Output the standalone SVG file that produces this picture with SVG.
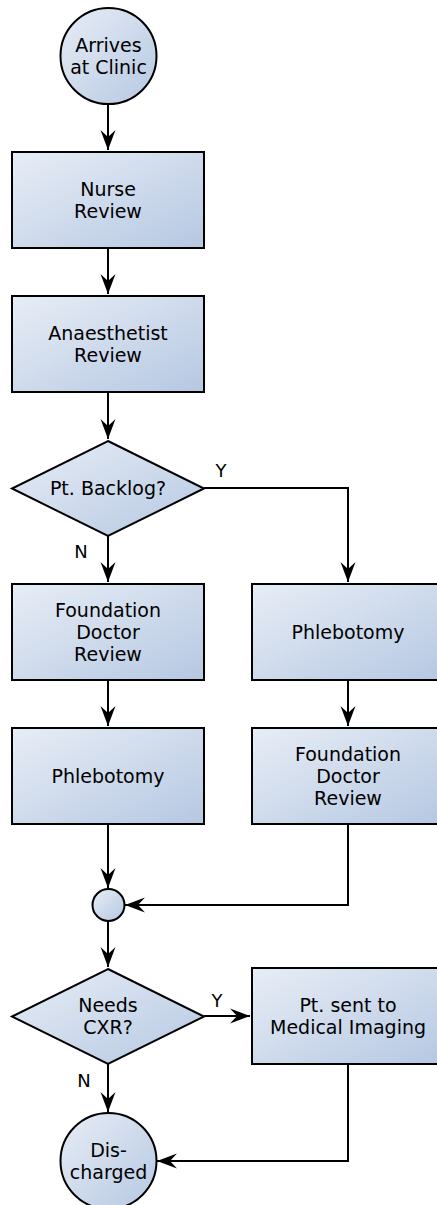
<svg xmlns="http://www.w3.org/2000/svg" width="437" height="1205" viewBox="0 0 437 1205">
<style>
.n{stroke:#000;stroke-width:2;fill:url(#g)}
.t{font-family:"DejaVu Sans",sans-serif;font-size:19px;fill:#000;text-anchor:middle}
.l{font-family:"DejaVu Sans",sans-serif;font-size:18px;fill:#000;text-anchor:middle}
.c{fill:none;stroke:#000;stroke-width:2}
</style>
<defs>
<linearGradient id="g" x1="0" y1="0" x2="1" y2="1">
<stop offset="0" stop-color="#e8edf6"/>
<stop offset="1" stop-color="#b5c8e2"/>
</linearGradient>
<marker id="a" viewBox="-1 -9 22 18" refX="20" refY="0" markerWidth="22" markerHeight="18" markerUnits="userSpaceOnUse" orient="auto">
<path d="M20,0 L0,-7.5 L7,0 L0,7.5 Z" fill="#000"/>
</marker>
</defs>
<g id="connectors">
<path class="c" d="M108,104 V150" marker-end="url(#a)"/>
<path class="c" d="M108,248 V294" marker-end="url(#a)"/>
<path class="c" d="M108,392 V439" marker-end="url(#a)"/>
<path class="c" d="M108,536 V582" marker-end="url(#a)"/>
<path class="c" d="M204,488 H348 V582" marker-end="url(#a)"/>
<path class="c" d="M108,680 V726" marker-end="url(#a)"/>
<path class="c" d="M348,680 V726" marker-end="url(#a)"/>
<path class="c" d="M108,824 V888" marker-end="url(#a)"/>
<path class="c" d="M348,824 V905 H125" marker-end="url(#a)"/>
<path class="c" d="M108,921 V967" marker-end="url(#a)"/>
<path class="c" d="M204,1016 H250" marker-end="url(#a)"/>
<path class="c" d="M108,1064 V1112" marker-end="url(#a)"/>
<path class="c" d="M348,1064 V1161 H157" marker-end="url(#a)"/>
<text class="l" x="221" y="477">Y</text>
<text class="l" x="81" y="558">N</text>
<text class="l" x="217" y="1007">Y</text>
<text class="l" x="84" y="1087">N</text>
</g>
<g id="arrives">
<circle class="n" cx="108.5" cy="56" r="48"/>
<text class="t" x="108.5" y="52">Arrives</text>
<text class="t" x="108.5" y="74">at Clinic</text>
</g>
<g id="nurse">
<rect class="n" x="12" y="152" width="192" height="96"/>
<text class="t" x="108" y="196">Nurse</text>
<text class="t" x="108" y="218">Review</text>
</g>
<g id="anaesthetist">
<rect class="n" x="12" y="296" width="192" height="96"/>
<text class="t" x="108" y="340">Anaesthetist</text>
<text class="t" x="108" y="362">Review</text>
</g>
<g id="backlog">
<polygon class="n" points="108,441 204,488.5 108,536 12,488.5"/>
<text class="t" x="108" y="495">Pt. Backlog?</text>
</g>
<g id="fdr-left">
<rect class="n" x="12" y="584" width="192" height="96"/>
<text class="t" x="108" y="617">Foundation</text>
<text class="t" x="108" y="639">Doctor</text>
<text class="t" x="108" y="661">Review</text>
</g>
<g id="phleb-left">
<rect class="n" x="12" y="728" width="192" height="96"/>
<text class="t" x="108" y="783">Phlebotomy</text>
</g>
<g id="phleb-right">
<rect class="n" x="252" y="584" width="192" height="96"/>
<text class="t" x="348" y="639">Phlebotomy</text>
</g>
<g id="fdr-right">
<rect class="n" x="252" y="728" width="192" height="96"/>
<text class="t" x="348" y="761">Foundation</text>
<text class="t" x="348" y="783">Doctor</text>
<text class="t" x="348" y="805">Review</text>
</g>
<g id="merge">
<circle class="n" cx="108.5" cy="905" r="16"/>
</g>
<g id="cxr">
<polygon class="n" points="108,969 204,1016.5 108,1064 12,1016.5"/>
<text class="t" x="108" y="1012">Needs</text>
<text class="t" x="108" y="1034">CXR?</text>
</g>
<g id="imaging">
<rect class="n" x="252" y="968" width="192" height="96"/>
<text class="t" x="348" y="1012">Pt. sent to</text>
<text class="t" x="348" y="1034">Medical Imaging</text>
</g>
<g id="discharged">
<circle class="n" cx="108.5" cy="1161" r="48"/>
<text class="t" x="108.5" y="1157">Dis-</text>
<text class="t" x="108.5" y="1179">charged</text>
</g>
</svg>
